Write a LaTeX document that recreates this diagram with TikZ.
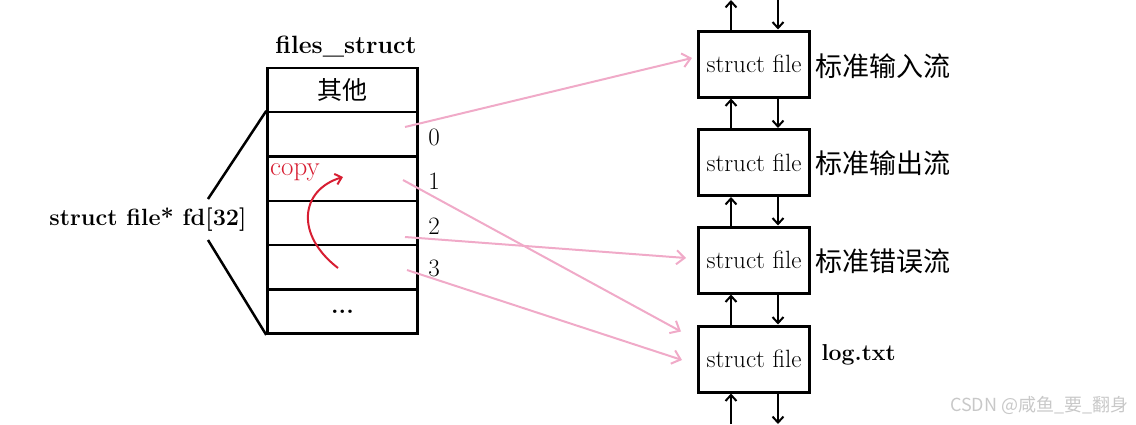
\documentclass[tikz,border=0pt]{standalone}
\usepackage{fontspec}
\newfontfamily\cjk{Noto Sans CJK SC}
\usetikzlibrary{arrows.meta,calc}
\definecolor{pinkline}{RGB}{240,170,200}
\definecolor{copyred}{RGB}{215,30,50}
\definecolor{wmgray}{RGB}{200,200,200}
\begin{document}
\begin{tikzpicture}[x=1pt,y=-1pt,
  cell/.style={draw,line width=2.5pt,minimum width=150pt,minimum height=44.3pt,inner sep=0pt,font=\fontsize{24}{24}\selectfont},
  filebox/.style={draw,line width=3pt,minimum width=111pt,minimum height=66pt,inner sep=0pt,font=\fontsize{25}{25}\selectfont},
  blk/.style={line width=2.5pt,-{Straight Barb[length=6pt,width=11pt,line width=2pt]}},
  pinkarrow/.style={pinkline,line width=2pt,-{Straight Barb[length=8pt,width=14pt,line width=2pt]}},
  idx/.style={font=\fontsize{25}{25}\selectfont},
  cn/.style={font=\cjk\fontsize{27}{28}\selectfont,anchor=west},
  lbl/.style={font=\bfseries\fontsize{24}{24}\selectfont}]
\useasboundingbox (0,0) rectangle (1136,424);
% table
\node[lbl,font=\bfseries\fontsize{25}{25}\selectfont] (title) at (346,47) {files\_struct};
\node[cell] (c0) at (342.5,90) {\cjk\fontsize{25}{25}\selectfont 其他};
\node[cell] (c1) at (342.5,134.3) {};
\node[cell] (c2) at (342.5,178.6) {};
\node[cell] (c3) at (342.5,222.9) {};
\node[cell] (c4) at (342.5,267.2) {};
\node[cell] (c5) at (342.5,311.5) {\textbf{...}};
\node[idx] (i0) at (434,137) {0};
\node[idx] (i1) at (434,181) {1};
\node[idx] (i2) at (434,226) {2};
\node[idx] (i3) at (434,268) {3};
% left label
\node[lbl,font=\bfseries\fontsize{23.5}{24}\selectfont] (fd) at (148,220) {struct file* fd[32]};
\coordinate (fdtop) at (208,199);
\coordinate (fdbot) at (208,240);
\draw[line width=2.5pt] (fdtop) -- (c1.north west);
\draw[line width=2.5pt] (fdbot) -- (c5.south west);
% copy arrow
\node[font=\fontsize{27}{27}\selectfont,text=copyred,anchor=west,inner sep=0pt] (copy) at (270,172) {copy};
\coordinate (cps) at (338,268);
\coordinate (cpe) at (343,177);
\draw[copyred,line width=2pt,-{Straight Barb[length=6pt,width=11pt,line width=2pt]}] (cps) .. controls (295,235) and (300,190) .. (cpe);
% file boxes
\node[filebox] (f1) at (754,64) {struct file};
\node[filebox] (f2) at (754,162.5) {struct file};
\node[filebox] (f3) at (754,260) {struct file};
\node[filebox] (f4) at (754,359) {struct file};
\node[cn] (n1) at (812,66) {标准输入流};
\node[cn] (n2) at (812,163) {标准输出流};
\node[cn] (n3) at (812,261) {标准错误流};
\node[lbl,anchor=west,font=\bfseries\fontsize{23}{23}\selectfont] (n4) at (818,355) {log.txt};
% vertical arrows
\coordinate (tu) at (731,0);
\coordinate (td) at (778,0);
\coordinate (bu) at (731,424);
\coordinate (bd) at (778,424);
\draw[blk] (f1.north -| tu) -- (tu);
\draw[blk] (td) -- (f1.north -| td);
\draw[blk] (f2.north -| tu) -- (f1.south -| tu);
\draw[blk] (f1.south -| td) -- (f2.north -| td);
\draw[blk] (f3.north -| tu) -- (f2.south -| tu);
\draw[blk] (f2.south -| td) -- (f3.north -| td);
\draw[blk] (f4.north -| tu) -- (f3.south -| tu);
\draw[blk] (f3.south -| td) -- (f4.north -| td);
\draw[blk] (bu) -- (f4.south -| bu);
\draw[blk] (f4.south -| bd) -- (bd);
% pink arrows
\coordinate (s0) at (405,127);
\coordinate (s1) at (403,180);
\coordinate (s2) at (405,237);
\coordinate (s3) at (407,270);
\draw[pinkarrow] (s0) -- ($(f1.west)+(-5,-6)$);
\draw[pinkarrow] (s1) -- ($(f4.north west)+(-16,7)$);
\draw[pinkarrow] (s2) -- ($(f3.west)+(-11,-2)$);
\draw[pinkarrow] (s3) -- ($(f4.west)+(-15,1)$);
% watermark
\node[font=\cjk\fontsize{18}{18}\selectfont,text=wmgray,anchor=east] (wm) at (1132,405) {CSDN @咸鱼\_要\_翻身};
\end{tikzpicture}
\end{document}
